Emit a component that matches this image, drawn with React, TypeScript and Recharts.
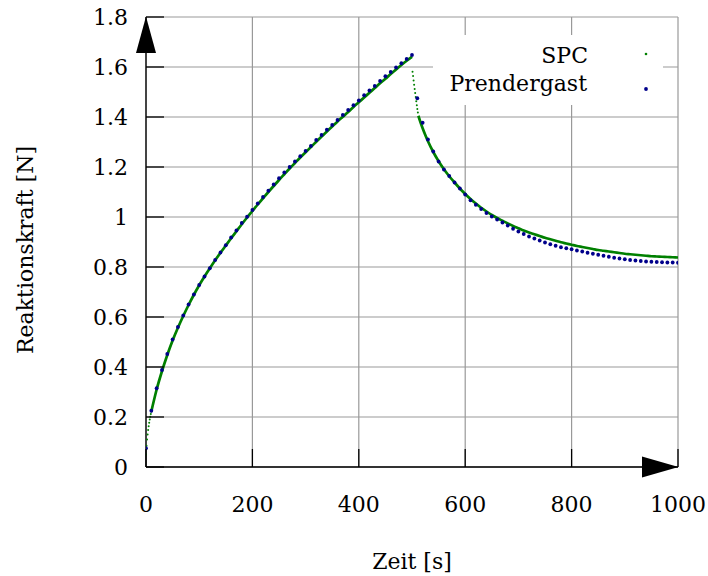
import React from 'react';
import { ComposedChart, Line, Scatter, XAxis, YAxis, CartesianGrid, Legend, Customized } from 'recharts';

const FONT = '"DejaVu Serif", serif';

const xTicks = [0, 200, 400, 600, 800, 1000];
const xTickLabels = ['0', '200', '400', '600', '800', '1000'];
const yTicks = [0, 0.2, 0.4, 0.6, 0.8, 1, 1.2, 1.4, 1.6, 1.8];
const yTickLabels = ['0', '0.2', '0.4', '0.6', '0.8', '1', '1.2', '1.4', '1.6', '1.8'];

const seriesNames = ['SPC', 'Prendergast'];

const prendergastTime = [
  0, 10, 20, 30, 40, 50, 60, 70, 80, 90,
  100, 110, 120, 130, 140, 150, 160, 170, 180, 190,
  200, 210, 220, 230, 240, 250, 260, 270, 280, 290,
  300, 310, 320, 330, 340, 350, 360, 370, 380, 390,
  400, 410, 420, 430, 440, 450, 460, 470, 480, 490,
  500, 510, 520, 530, 540, 550, 560, 570, 580, 590,
  600, 610, 620, 630, 640, 650, 660, 670, 680, 690,
  700, 710, 720, 730, 740, 750, 760, 770, 780, 790,
  800, 810, 820, 830, 840, 850, 860, 870, 880, 890,
  900, 910, 920, 930, 940, 950, 960, 970, 980, 990, 1000,
];
const prendergastForce = [
  0.075, 0.225, 0.315, 0.388, 0.452, 0.51, 0.56, 0.606, 0.65, 0.69,
  0.728, 0.762, 0.795, 0.828, 0.858, 0.887, 0.918, 0.946, 0.976, 1.001,
  1.028, 1.054, 1.08, 1.105, 1.13, 1.155, 1.178, 1.2, 1.222, 1.243,
  1.264, 1.284, 1.308, 1.328, 1.349, 1.368, 1.388, 1.408, 1.428, 1.447,
  1.466, 1.487, 1.506, 1.524, 1.544, 1.563, 1.58, 1.598, 1.615, 1.632,
  1.648, 1.475, 1.377, 1.31, 1.262, 1.222, 1.19, 1.164, 1.138, 1.114,
  1.09, 1.067, 1.049, 1.032, 1.016, 1.002, 0.99, 0.978, 0.966, 0.953,
  0.942, 0.932, 0.922, 0.914, 0.906, 0.898, 0.891, 0.885, 0.879, 0.875,
  0.871, 0.866, 0.862, 0.857, 0.853, 0.849, 0.845, 0.841, 0.837, 0.834,
  0.831, 0.828, 0.826, 0.824, 0.822, 0.821, 0.82, 0.819, 0.818, 0.818, 0.817,
];

const spcStartTime = [0, 1, 2, 3, 4, 5, 6, 7, 8, 9, 10];
const spcStartForce = [0.05, 0.085, 0.11, 0.13, 0.148, 0.163, 0.177, 0.19, 0.201, 0.212, 0.222];

const spcLoadTime = [
  10, 20, 30, 40, 50, 60, 70, 80, 90, 100,
  110, 120, 130, 140, 150, 160, 170, 180, 190, 200,
  210, 220, 230, 240, 250, 260, 270, 280, 290, 300,
  310, 320, 330, 340, 350, 360, 370, 380, 390, 400,
  410, 420, 430, 440, 450, 460, 470, 480, 490, 500,
];
const spcLoadForce = [
  0.222, 0.31, 0.383, 0.448, 0.506, 0.557, 0.604, 0.648, 0.689, 0.727,
  0.762, 0.795, 0.827, 0.857, 0.886, 0.915, 0.943, 0.971, 0.998, 1.024,
  1.05, 1.075, 1.1, 1.124, 1.148, 1.171, 1.194, 1.216, 1.238, 1.259,
  1.28, 1.301, 1.322, 1.342, 1.362, 1.382, 1.401, 1.42, 1.44, 1.459,
  1.478, 1.497, 1.516, 1.535, 1.553, 1.572, 1.59, 1.608, 1.625, 1.641,
];

const spcDropTime = [501, 502, 503, 504, 505, 506, 507, 508, 509, 510, 511];
const spcDropForce = [1.581, 1.564, 1.546, 1.529, 1.512, 1.496, 1.48, 1.463, 1.447, 1.432, 1.418];

const spcUnloadTime = [
  512, 515, 520, 525, 530, 540, 550, 560, 570, 580, 590,
  600, 610, 620, 630, 640, 650, 660, 670, 680, 690,
  700, 710, 720, 730, 740, 750, 760, 770, 780, 790,
  800, 810, 820, 830, 840, 850, 860, 870, 880, 890,
  900, 910, 920, 930, 940, 950, 960, 970, 980, 990, 1000,
];
const spcUnloadForce = [
  1.405, 1.385, 1.355, 1.328, 1.303, 1.26, 1.223, 1.191, 1.163, 1.138, 1.114,
  1.092, 1.072, 1.054, 1.037, 1.022, 1.008, 0.996, 0.985, 0.974, 0.964,
  0.955, 0.946, 0.938, 0.931, 0.924, 0.917, 0.911, 0.905, 0.899, 0.894,
  0.889, 0.884, 0.88, 0.876, 0.872, 0.868, 0.865, 0.862, 0.859, 0.856,
  0.853, 0.851, 0.849, 0.847, 0.845, 0.843, 0.842, 0.841, 0.84, 0.839, 0.838,
];

const zip = (ts: number[], fs: number[]) => ts.map((t, i) => ({ t, f: fs[i] }));

const prendergast = zip(prendergastTime, prendergastForce);
const spcStart = zip(spcStartTime, spcStartForce);
const spcLoad = zip(spcLoadTime, spcLoadForce);
const spcDrop = zip(spcDropTime, spcDropForce);
const spcUnload = zip(spcUnloadTime, spcUnloadForce);

const GREEN = '#008000';
const BLUE = '#00008b';
const PLOT_LEFT = 146;
const PLOT_BOTTOM = 467;
const FS = 22;

const XTick = (props: any) => {
  const { x, payload } = props;
  const i = xTicks.indexOf(payload.value);
  return (
    <g>
      <line x1={x} x2={x} y1={PLOT_BOTTOM} y2={PLOT_BOTTOM - 18} stroke="#000" strokeWidth={1.3} />
      <text x={x} y={PLOT_BOTTOM + 45} textAnchor="middle" fontFamily={FONT} fontSize={FS} fill="#000">
        {xTickLabels[i]}
      </text>
    </g>
  );
};

const YTick = (props: any) => {
  const { y, payload } = props;
  const i = yTicks.indexOf(payload.value);
  return (
    <g>
      <line x1={PLOT_LEFT} x2={PLOT_LEFT + 18} y1={y} y2={y} stroke="#000" strokeWidth={1.3} />
      <text x={128} y={y + 7.5} textAnchor="end" fontFamily={FONT} fontSize={FS} fill="#000">
        {yTickLabels[i]}
      </text>
    </g>
  );
};

const GreenDot = (props: any) => <circle cx={props.cx} cy={props.cy} r={1} fill={GREEN} />;
const BlueDot = (props: any) => <circle cx={props.cx} cy={props.cy} r={1.9} fill={BLUE} />;

const Arrows = () => (
  <g>
    <polygon points="146,16.5 136,53 156,53" fill="#000" />
    <polygon points="678.5,467 642,456.5 642,477.5" fill="#000" />
  </g>
);

const AxisTitles = () => (
  <g fontFamily={FONT} fontSize={FS} fill="#000">
    <text x={412} y={569} textAnchor="middle">Zeit [s]</text>
    <text x={0} y={0} textAnchor="middle" transform="translate(33,250) rotate(-90)">Reaktionskraft [N]</text>
  </g>
);

const LegendBox = () => (
  <svg width={230} height={70} style={{ display: 'block' }}>
    <rect x={0} y={0} width={230} height={70} fill="#fff" />
    <text x={155} y={28} textAnchor="end" fontFamily={FONT} fontSize={22} fill="#000">{seriesNames[0]}</text>
    <circle cx={213} cy={19} r={1.3} fill={GREEN} />
    <text x={154} y={56} textAnchor="end" fontFamily={FONT} fontSize={22} fill="#000">{seriesNames[1]}</text>
    <circle cx={213} cy={54} r={1.9} fill={BLUE} />
  </svg>
);

export default function App() {
  return (
    <div style={{ position: 'absolute', left: 0, top: 0, width: 708, height: 576, background: '#fff' }}>
      <ComposedChart width={708} height={576} margin={{ top: 17, right: 30, bottom: 0, left: 0 }}>
        <CartesianGrid stroke="#999" strokeWidth={1.2} />
        <XAxis
          type="number"
          dataKey="t"
          domain={[0, 1000]}
          ticks={xTicks}
          interval={0}
          height={109}
          allowDataOverflow
          axisLine={{ stroke: '#000', strokeWidth: 1.3 }}
          tickLine={false}
          tick={<XTick />}
        />
        <YAxis
          type="number"
          dataKey="f"
          domain={[0, 1.8]}
          ticks={yTicks}
          interval={0}
          width={146}
          allowDataOverflow
          axisLine={{ stroke: '#000', strokeWidth: 1.3 }}
          tickLine={false}
          tick={<YTick />}
        />
        <Line data={spcLoad} dataKey="f" type="monotone" stroke={GREEN} strokeWidth={2.7} dot={false} isAnimationActive={false} legendType="none" />
        <Line data={spcUnload} dataKey="f" type="monotone" stroke={GREEN} strokeWidth={2.7} dot={false} isAnimationActive={false} legendType="none" />
        <Scatter data={spcStart} dataKey="f" fill={GREEN} shape={GreenDot} isAnimationActive={false} legendType="none" />
        <Scatter data={spcDrop} dataKey="f" fill={GREEN} shape={GreenDot} isAnimationActive={false} legendType="none" />
        <Scatter data={prendergast} dataKey="f" fill={BLUE} shape={BlueDot} isAnimationActive={false} legendType="none" />
        <Customized component={Arrows} />
        <Customized component={AxisTitles} />
        <Legend
          layout="horizontal"
          verticalAlign="middle"
          align="center"
          wrapperStyle={{ left: 433, top: 35, width: 230, height: 70 }}
          content={() => <LegendBox />}
        />
      </ComposedChart>
    </div>
  );
}
